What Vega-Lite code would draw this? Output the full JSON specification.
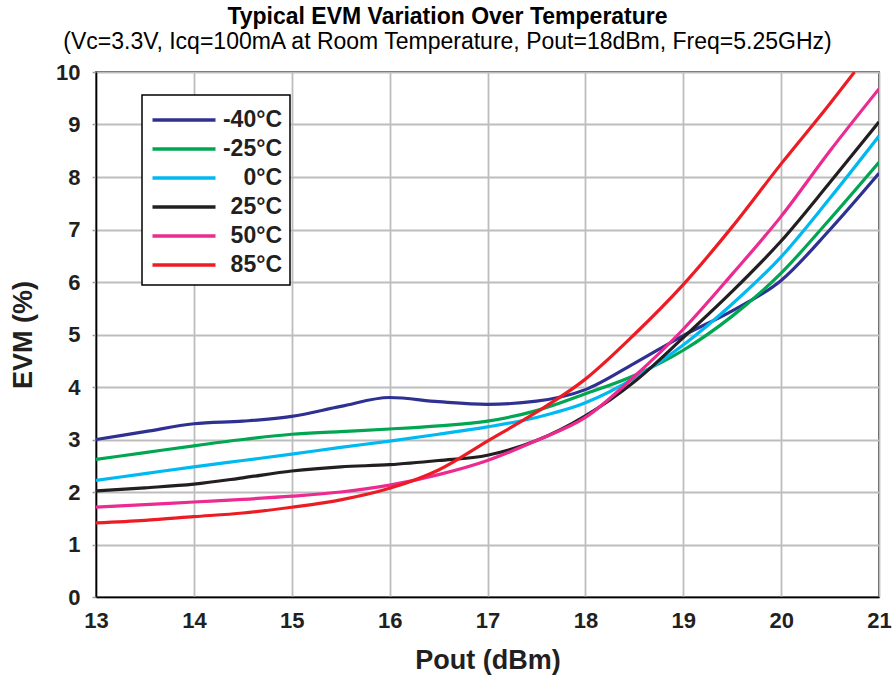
{
  "$schema": "https://vega.github.io/schema/vega-lite/v6.json",
  "autosize": "none",
  "width": 783,
  "height": 525,
  "padding": {"left": 96, "top": 72, "right": 15, "bottom": 84},
  "background": "white",
  "config": {
    "font": "Liberation Sans",
    "view": {"stroke": "black", "strokeWidth": 1.5},
    "axis": {
      "gridColor": "#bdbdbd",
      "gridWidth": 1.8,
      "gridOpacity": 1,
      "domainColor": "black",
      "domainWidth": 1.5,
      "labelFont": "Liberation Sans",
      "labelFontWeight": "bold",
      "labelFontSize": 22,
      "labelColor": "#231f20",
      "titleFont": "Liberation Sans",
      "titleFontWeight": "bold",
      "titleFontSize": 27,
      "titleColor": "#231f20"
    }
  },
  "title": {
    "text": "Typical EVM Variation Over Temperature",
    "subtitle": "(Vc=3.3V, Icq=100mA at Room Temperature, Pout=18dBm, Freq=5.25GHz)",
    "anchor": "middle",
    "frame": "group",
    "dx": -40,
    "offset": 7,
    "font": "Liberation Sans",
    "fontSize": 23,
    "fontWeight": "bold",
    "color": "black",
    "subtitleFont": "Liberation Sans",
    "subtitleFontSize": 23,
    "subtitleColor": "black",
    "subtitlePadding": 2
  },
  "data": {
    "values": [
      {"t": "-40°C", "pout": 13, "evm": 3.0},
      {"t": "-40°C", "pout": 13.5, "evm": 3.15},
      {"t": "-40°C", "pout": 14, "evm": 3.3},
      {"t": "-40°C", "pout": 14.5, "evm": 3.35},
      {"t": "-40°C", "pout": 15, "evm": 3.44},
      {"t": "-40°C", "pout": 15.5, "evm": 3.63},
      {"t": "-40°C", "pout": 16, "evm": 3.8},
      {"t": "-40°C", "pout": 16.5, "evm": 3.72},
      {"t": "-40°C", "pout": 17, "evm": 3.67},
      {"t": "-40°C", "pout": 17.5, "evm": 3.73},
      {"t": "-40°C", "pout": 18, "evm": 3.95},
      {"t": "-40°C", "pout": 18.5, "evm": 4.45},
      {"t": "-40°C", "pout": 19, "evm": 4.98},
      {"t": "-40°C", "pout": 19.5, "evm": 5.45},
      {"t": "-40°C", "pout": 20, "evm": 6.03},
      {"t": "-40°C", "pout": 20.5, "evm": 7.0},
      {"t": "-40°C", "pout": 21, "evm": 8.07},

      {"t": "-25°C", "pout": 13, "evm": 2.62},
      {"t": "-25°C", "pout": 13.5, "evm": 2.75},
      {"t": "-25°C", "pout": 14, "evm": 2.88},
      {"t": "-25°C", "pout": 14.5, "evm": 3.0},
      {"t": "-25°C", "pout": 15, "evm": 3.1},
      {"t": "-25°C", "pout": 15.5, "evm": 3.15},
      {"t": "-25°C", "pout": 16, "evm": 3.2},
      {"t": "-25°C", "pout": 16.5, "evm": 3.26},
      {"t": "-25°C", "pout": 17, "evm": 3.35},
      {"t": "-25°C", "pout": 17.5, "evm": 3.55},
      {"t": "-25°C", "pout": 18, "evm": 3.87},
      {"t": "-25°C", "pout": 18.5, "evm": 4.22},
      {"t": "-25°C", "pout": 19, "evm": 4.7},
      {"t": "-25°C", "pout": 19.5, "evm": 5.35},
      {"t": "-25°C", "pout": 20, "evm": 6.17},
      {"t": "-25°C", "pout": 20.5, "evm": 7.2},
      {"t": "-25°C", "pout": 21, "evm": 8.28},

      {"t": "0°C", "pout": 13, "evm": 2.22},
      {"t": "0°C", "pout": 13.5, "evm": 2.35},
      {"t": "0°C", "pout": 14, "evm": 2.48},
      {"t": "0°C", "pout": 14.5, "evm": 2.6},
      {"t": "0°C", "pout": 15, "evm": 2.72},
      {"t": "0°C", "pout": 15.5, "evm": 2.85},
      {"t": "0°C", "pout": 16, "evm": 2.97},
      {"t": "0°C", "pout": 16.5, "evm": 3.1},
      {"t": "0°C", "pout": 17, "evm": 3.24},
      {"t": "0°C", "pout": 17.5, "evm": 3.42},
      {"t": "0°C", "pout": 18, "evm": 3.7},
      {"t": "0°C", "pout": 18.5, "evm": 4.17},
      {"t": "0°C", "pout": 19, "evm": 4.8},
      {"t": "0°C", "pout": 19.5, "evm": 5.58},
      {"t": "0°C", "pout": 20, "evm": 6.48},
      {"t": "0°C", "pout": 20.5, "evm": 7.6},
      {"t": "0°C", "pout": 21, "evm": 8.78},

      {"t": "25°C", "pout": 13, "evm": 2.02},
      {"t": "25°C", "pout": 13.5, "evm": 2.08},
      {"t": "25°C", "pout": 14, "evm": 2.15},
      {"t": "25°C", "pout": 14.5, "evm": 2.27},
      {"t": "25°C", "pout": 15, "evm": 2.4},
      {"t": "25°C", "pout": 15.5, "evm": 2.48},
      {"t": "25°C", "pout": 16, "evm": 2.52},
      {"t": "25°C", "pout": 16.5, "evm": 2.6},
      {"t": "25°C", "pout": 17, "evm": 2.7},
      {"t": "25°C", "pout": 17.5, "evm": 2.98},
      {"t": "25°C", "pout": 18, "evm": 3.45},
      {"t": "25°C", "pout": 18.5, "evm": 4.1},
      {"t": "25°C", "pout": 19, "evm": 4.94},
      {"t": "25°C", "pout": 19.5, "evm": 5.82},
      {"t": "25°C", "pout": 20, "evm": 6.78},
      {"t": "25°C", "pout": 20.5, "evm": 7.9},
      {"t": "25°C", "pout": 21, "evm": 9.05},

      {"t": "50°C", "pout": 13, "evm": 1.71},
      {"t": "50°C", "pout": 13.5, "evm": 1.76},
      {"t": "50°C", "pout": 14, "evm": 1.81},
      {"t": "50°C", "pout": 14.5, "evm": 1.86},
      {"t": "50°C", "pout": 15, "evm": 1.92},
      {"t": "50°C", "pout": 15.5, "evm": 2.0},
      {"t": "50°C", "pout": 16, "evm": 2.13},
      {"t": "50°C", "pout": 16.5, "evm": 2.33},
      {"t": "50°C", "pout": 17, "evm": 2.6},
      {"t": "50°C", "pout": 17.5, "evm": 2.98},
      {"t": "50°C", "pout": 18, "evm": 3.42},
      {"t": "50°C", "pout": 18.5, "evm": 4.2},
      {"t": "50°C", "pout": 19, "evm": 5.1},
      {"t": "50°C", "pout": 19.5, "evm": 6.15},
      {"t": "50°C", "pout": 20, "evm": 7.25},
      {"t": "50°C", "pout": 20.5, "evm": 8.5},
      {"t": "50°C", "pout": 21, "evm": 9.68},

      {"t": "85°C", "pout": 13, "evm": 1.41},
      {"t": "85°C", "pout": 13.5, "evm": 1.46},
      {"t": "85°C", "pout": 14, "evm": 1.53},
      {"t": "85°C", "pout": 14.5, "evm": 1.6},
      {"t": "85°C", "pout": 15, "evm": 1.71},
      {"t": "85°C", "pout": 15.5, "evm": 1.85},
      {"t": "85°C", "pout": 16, "evm": 2.07},
      {"t": "85°C", "pout": 16.5, "evm": 2.42},
      {"t": "85°C", "pout": 17, "evm": 2.97},
      {"t": "85°C", "pout": 17.5, "evm": 3.52},
      {"t": "85°C", "pout": 18, "evm": 4.15},
      {"t": "85°C", "pout": 18.5, "evm": 5.0},
      {"t": "85°C", "pout": 19, "evm": 5.95},
      {"t": "85°C", "pout": 19.5, "evm": 7.05},
      {"t": "85°C", "pout": 20, "evm": 8.25},
      {"t": "85°C", "pout": 20.5, "evm": 9.4},
      {"t": "85°C", "pout": 20.75, "evm": 10.0}
    ]
  },
  "mark": {"type": "line", "interpolate": "monotone", "strokeWidth": 3.2, "clip": true},
  "encoding": {
    "x": {
      "field": "pout",
      "type": "quantitative",
      "title": "Pout (dBm)",
      "scale": {"domain": [13, 21], "nice": false, "zero": false},
      "axis": {
        "values": [13, 14, 15, 16, 17, 18, 19, 20, 21],
        "ticks": false,
        "labelPadding": 13,
        "titlePadding": 16,
        "labelFlush": false
      }
    },
    "y": {
      "field": "evm",
      "type": "quantitative",
      "title": "EVM (%)",
      "scale": {"domain": [0, 10], "nice": false},
      "axis": {
        "values": [0, 1, 2, 3, 4, 5, 6, 7, 8, 9, 10],
        "tickSize": 4,
        "tickColor": "#9e9e9e",
        "tickWidth": 1.5,
        "labelPadding": 12,
        "titlePadding": 18
      }
    },
    "color": {
      "field": "t",
      "type": "nominal",
      "scale": {
        "domain": ["-40°C", "-25°C", "0°C", "25°C", "50°C", "85°C"],
        "range": ["#2e3192", "#00a651", "#00b9f1", "#231f20", "#ec2a90", "#ed1c24"]
      },
      "legend": {
        "title": null,
        "orient": "none",
        "legendX": 46,
        "legendY": 23,
        "padding": 8,
        "fillColor": "white",
        "strokeColor": "black",
        "symbolType": "M-2.1,0H2.1",
        "symbolSize": 900,
        "symbolStrokeWidth": 3.6,
        "symbolOffset": 17,
        "rowPadding": 0,
        "labelAlign": "right",
        "labelOffset": 81,
        "labelFont": "Liberation Sans",
        "labelFontWeight": "bold",
        "labelFontSize": 23,
        "labelColor": "#231f20",
        "labelLimit": 200,
        "encode": {
          "legend": {"update": {"strokeWidth": {"value": 1.5}}}
        }
      }
    }
  }
}
